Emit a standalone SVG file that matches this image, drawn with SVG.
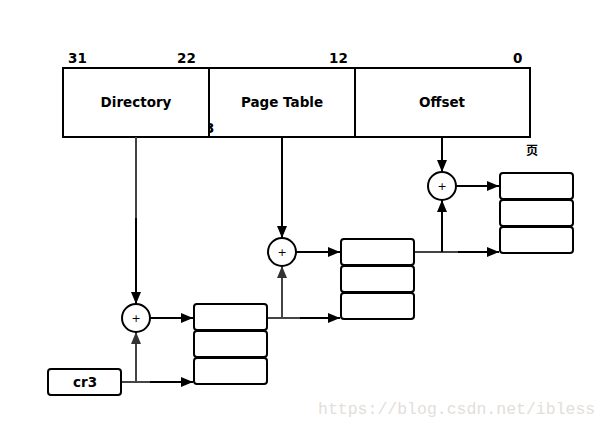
<svg xmlns="http://www.w3.org/2000/svg" width="612" height="428" viewBox="0 0 612 428">
<style>
.t{font-family:"DejaVu Sans","Liberation Sans",sans-serif;font-weight:bold;font-size:13.5px;fill:#000}
.n{font-family:"DejaVu Sans","Liberation Sans",sans-serif;font-weight:bold;font-size:13.5px;fill:#000}
.p{font-family:"DejaVu Sans",sans-serif;font-size:11px;fill:#000;text-anchor:middle}
.box{fill:#fff;stroke:#000;stroke-width:2}
.cell{fill:#fff;stroke:#000;stroke-width:2}
.c{fill:#fff;stroke:#000;stroke-width:2}
.l{fill:none;stroke:#000;stroke-width:2}
.g{fill:none;stroke:#444;stroke-width:2}
.wm{font-family:"Liberation Mono",monospace;font-size:16.5px;fill:#e2deda}
</style>
<defs>
<marker id="a" viewBox="0 0 12 10" refX="12" refY="5" markerWidth="12" markerHeight="10" markerUnits="userSpaceOnUse" orient="auto"><path d="M0,0 L12,5 L0,10 z" fill="#000"/></marker>
<marker id="ag" viewBox="0 0 12 10" refX="12" refY="5" markerWidth="12" markerHeight="10" markerUnits="userSpaceOnUse" orient="auto"><path d="M0,0 L12,5 L0,10 z" fill="#333"/></marker>
</defs>
<rect width="612" height="428" fill="#fff"/>

<g id="address">
<text class="n" x="68" y="63">31</text>
<text class="n" x="177" y="63">22</text>
<text class="n" x="329" y="63">12</text>
<text class="n" x="513" y="63">0</text>
<rect class="box" x="63" y="68" width="467" height="69"/>
<text class="n" x="205" y="133">3</text>
<rect x="200" y="120" width="9" height="16" fill="#fff"/>
<line class="l" x1="209" y1="68" x2="209" y2="137"/>
<line class="l" x1="355" y1="68" x2="355" y2="137"/>
<line class="l" x1="63" y1="137" x2="530" y2="137"/>
<text class="t" x="136" y="107" text-anchor="middle">Directory</text>
<text class="t" x="282" y="107" text-anchor="middle">Page Table</text>
<text class="t" x="442" y="107" text-anchor="middle">Offset</text>
</g>

<g id="connectors">
<line class="g" x1="136" y1="137" x2="136" y2="219"/>
<line class="l" x1="136" y1="218" x2="136" y2="304" marker-end="url(#a)"/>
<line class="l" x1="282" y1="137" x2="282" y2="238" marker-end="url(#a)"/>
<line class="l" x1="442" y1="137" x2="442" y2="172" marker-end="url(#a)"/>
<line class="l" x1="150" y1="318" x2="193" y2="318" marker-end="url(#a)"/>
<line class="l" x1="296" y1="252" x2="340" y2="252" marker-end="url(#a)"/>
<line class="l" x1="456" y1="186" x2="499" y2="186" marker-end="url(#a)"/>
<line class="g" x1="121" y1="382" x2="150" y2="382"/>
<line class="l" x1="150" y1="382" x2="193" y2="382" marker-end="url(#a)"/>
<line class="g" x1="136" y1="382" x2="136" y2="332" marker-end="url(#ag)"/>
<line class="g" x1="267" y1="318" x2="300" y2="318"/>
<line class="l" x1="300" y1="318" x2="340" y2="318" marker-end="url(#a)"/>
<line class="g" x1="282" y1="318" x2="282" y2="266" marker-end="url(#ag)"/>
<line class="g" x1="414" y1="252" x2="458" y2="252"/>
<line class="l" x1="458" y1="252" x2="499" y2="252" marker-end="url(#a)"/>
<line class="l" x1="442" y1="252" x2="442" y2="200" marker-end="url(#a)"/>
</g>

<g id="add1"><circle class="c" cx="136" cy="318" r="14"/><text class="p" x="136" y="322">+</text></g>
<g id="add2"><circle class="c" cx="282" cy="252" r="14"/><text class="p" x="282" y="256">+</text></g>
<g id="add3"><circle class="c" cx="442" cy="186" r="14"/><text class="p" x="442" y="190">+</text></g>

<g id="cr3">
<rect class="cell" x="48" y="369" width="73" height="26" rx="3"/>
<text class="t" x="85" y="387" text-anchor="middle">cr3</text>
</g>

<g id="page-directory">
<rect class="cell" x="194" y="304" width="73" height="26" rx="3"/>
<rect class="cell" x="194" y="331" width="73" height="26" rx="3"/>
<rect class="cell" x="194" y="358" width="73" height="26" rx="3"/>
</g>

<g id="page-table">
<rect class="cell" x="341" y="239" width="73" height="26" rx="3"/>
<rect class="cell" x="341" y="266" width="73" height="26" rx="3"/>
<rect class="cell" x="341" y="293" width="73" height="26" rx="3"/>
</g>

<g id="page">
<text x="526" y="155" style="font-family:'Noto Sans CJK SC',sans-serif;font-weight:bold;font-size:12px">页</text>
<rect class="cell" x="500" y="173" width="73" height="26" rx="3"/>
<rect class="cell" x="500" y="200" width="73" height="26" rx="3"/>
<rect class="cell" x="500" y="227" width="73" height="26" rx="3"/>
</g>

<text class="wm" x="318" y="414">https://blog.csdn.net/ibless</text>
</svg>
